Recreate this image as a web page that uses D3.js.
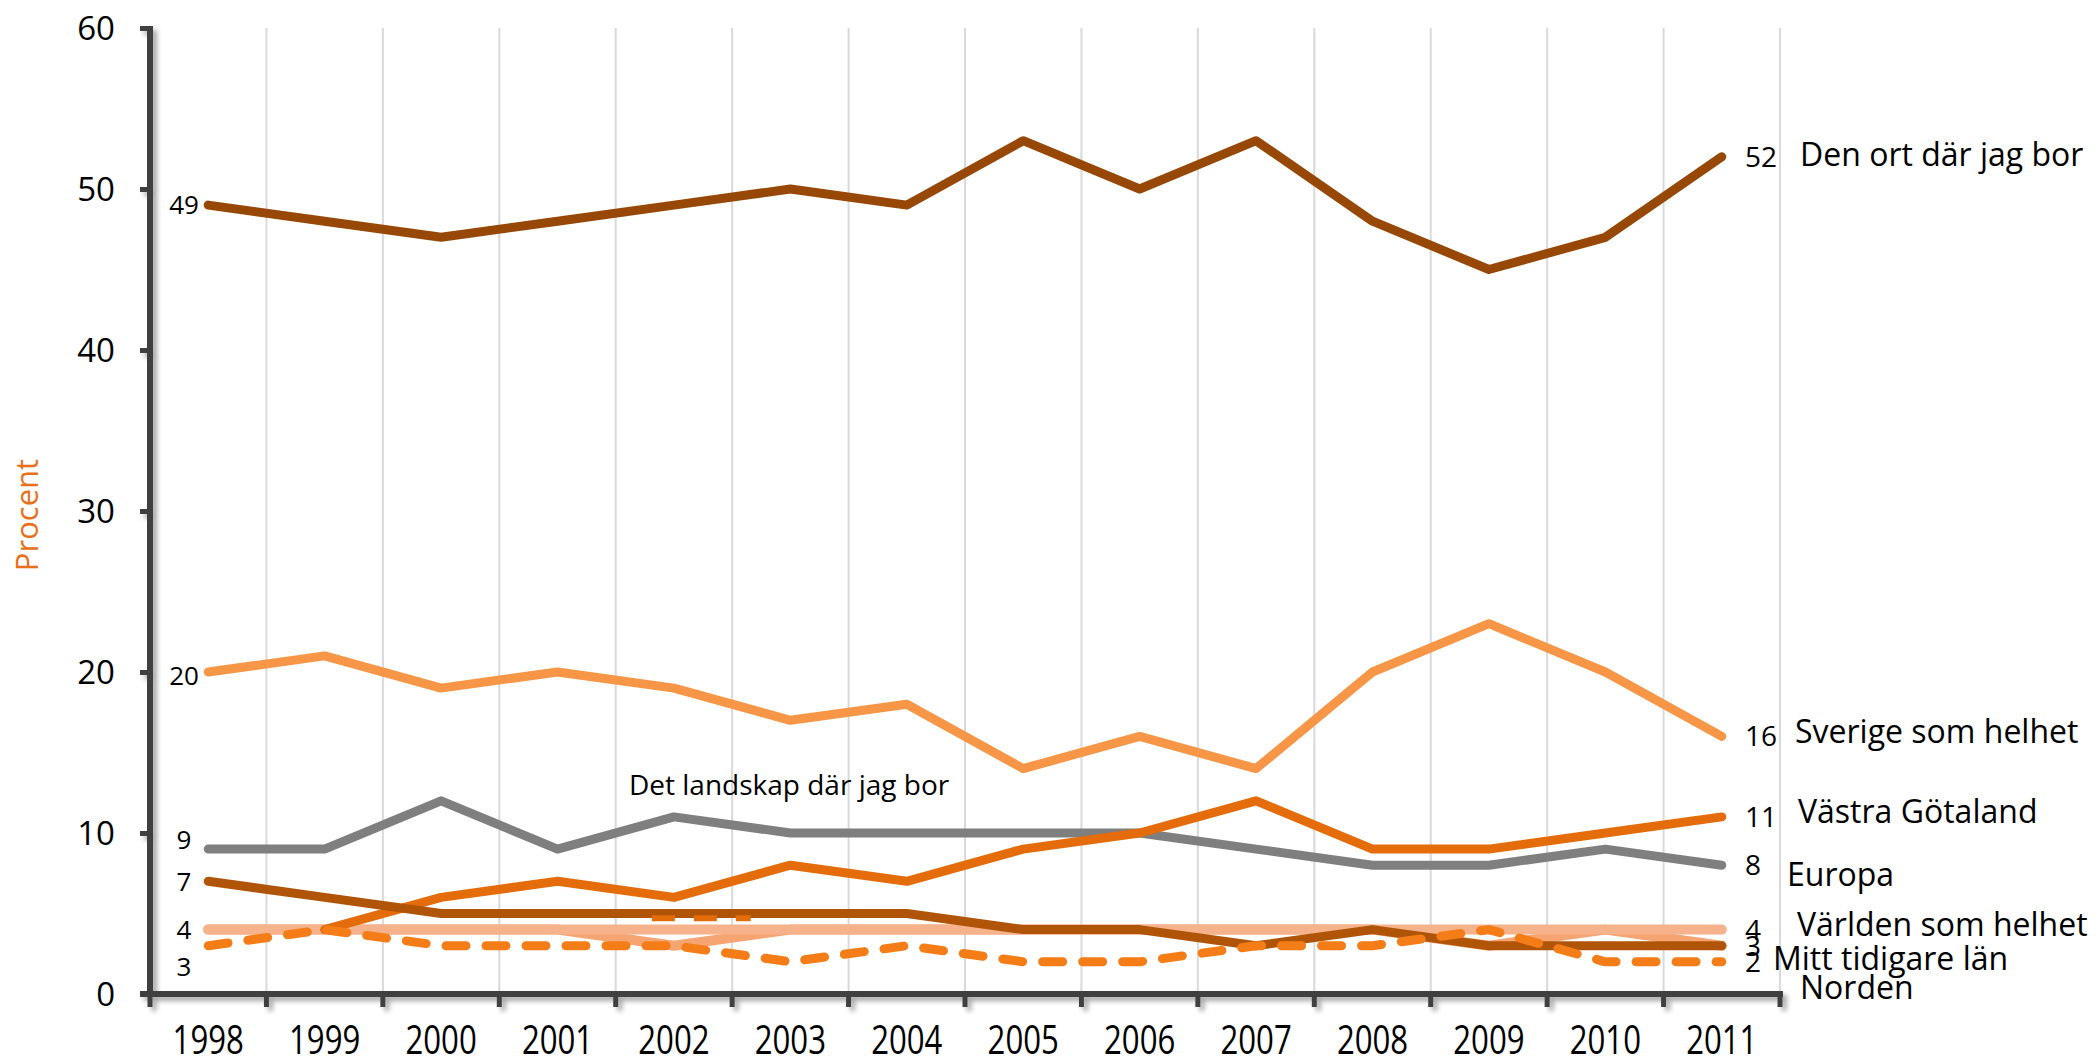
<!DOCTYPE html>
<html><head><meta charset="utf-8">
<script src="https://cdn.jsdelivr.net/npm/d3@7"></script>
<style>
body{margin:0;background:#fff}
svg{display:block}
text{font-family:"Open Sans",sans-serif;fill:#000}
</style>
</head><body>
<svg id="c" width="2098" height="1059"></svg>
<script>
// ---------------- data ----------------
const years = [1998,1999,2000,2001,2002,2003,2004,2005,2006,2007,2008,2009,2010,2011];
const yTicks = [0,10,20,30,40,50,60];
const denOrt   = [49,48,47,48,49,50,49,53,50,53,48,45,47,52];
const sverige  = [20,21,19,20,19,17,18,14,16,14,20,23,20,16];
const landskap = [9,9,12,9,11,10,10,10,10,9,8,8,9,8];
const vastra   = [null,4,6,7,6,8,7,9,10,12,9,9,10,11];
const europa   = [4,4,4,4,3,4,4,4,4,4,4,3,4,3];
const varlden  = [4,4,4,4,4,4,4,4,4,4,4,4,4,4];
const mittLan  = [7,6,5,5,5,5,5,4,4,3,4,3,3,3];
const norden   = [3,4,3,3,3,2,3,2,2,3,3,4,2,2];
const seriesNames = ["Den ort där jag bor","Sverige som helhet","Västra Götaland","Europa",
  "Världen som helhet","Mitt tidigare län","Norden","Det landskap där jag bor"];
const yTitle = "Procent";

// ---------------- layout ----------------
const svg = d3.select("#c");
const x = d3.scaleBand().domain(years).range([150,1780]);
const y = d3.scaleLinear().domain([0,60]).range([994,28]);
const cx = d => x(d) + x.bandwidth()/2;

const defs = svg.append("defs");
const f = defs.append("filter").attr("id","sh").attr("x","-20%").attr("y","-20%").attr("width","140%").attr("height","140%");
f.append("feGaussianBlur").attr("in","SourceAlpha").attr("stdDeviation",2.5).attr("result","b");
f.append("feOffset").attr("in","b").attr("dx",4).attr("dy",4).attr("result","o");
f.append("feComponentTransfer").attr("in","o").attr("result","o2")
  .append("feFuncA").attr("type","linear").attr("slope",0.35);
const fm = f.append("feMerge");
fm.append("feMergeNode").attr("in","o2");
fm.append("feMergeNode").attr("in","SourceGraphic");

// vertical gridlines at band boundaries
const bounds = years.map(d => x(d)).concat([x.range()[1]]);
svg.append("g").selectAll("line").data(bounds.slice(1)).join("line")
  .attr("x1",d=>d).attr("x2",d=>d).attr("y1",y(60)).attr("y2",y(0))
  .attr("stroke","#d9d9d9").attr("stroke-width",2);

// ---------------- series ----------------
const line = d3.line().defined(v => v != null).x((v,i) => cx(years[i])).y(v => y(v));
const series = [
  {v: landskap, c:"#7f7f7f", w:9},
  {v: sverige,  c:"#f79646", w:9},
  {v: denOrt,   c:"#974806", w:9},
  {v: europa,   c:"#f5a472", w:10},
  {v: varlden,  c:"#f6b28b", w:10},
  {v: vastra,   c:"#e46c0a", w:9},
  {v: mittLan,  c:"#b05508", w:9},
  {v: norden,   c:"#f57d17", w:9, dash:"20 20"}
];
const gS = svg.append("g");
series.forEach(s => {
  const p = gS.append("path").datum(s.v).attr("d", line)
    .attr("fill","none").attr("stroke", s.c).attr("stroke-width", s.w)
    .attr("stroke-linecap","round").attr("stroke-linejoin","round");
  if (s.dash) p.attr("stroke-dasharray", s.dash);
});
// stray dashed key fragment near 2002
const keyYear = 2002, keyVal = 4.7;
svg.append("line")
  .attr("x1", cx(keyYear) - 0.19*x.step()).attr("x2", cx(keyYear) + 0.66*x.step())
  .attr("y1", y(keyVal)).attr("y2", y(keyVal))
  .attr("stroke","#e46c0a").attr("stroke-width",6).attr("stroke-dasharray","23 19");

// ---------------- axes ----------------
const gA = svg.append("g").attr("filter","url(#sh)");
const ya = gA.append("g").attr("transform","translate(150,0)")
  .call(d3.axisLeft(y).tickValues(yTicks).tickSize(10).tickFormat(""));
ya.select(".domain").remove();
ya.selectAll(".tick line").attr("stroke","#404040").attr("stroke-width",5);
gA.append("line").attr("x1",150).attr("x2",150).attr("y1",y(60)-2).attr("y2",y(0)+3)
  .attr("stroke","#404040").attr("stroke-width",6);
gA.append("line").attr("x1",140).attr("x2",x.range()[1]+3).attr("y1",y(0)).attr("y2",y(0))
  .attr("stroke","#404040").attr("stroke-width",6);
gA.append("g").selectAll("line").data(bounds).join("line")
  .attr("x1",d=>d).attr("x2",d=>d).attr("y1",y(0)).attr("y2",y(0)+13)
  .attr("stroke","#404040").attr("stroke-width",5);

// y tick labels
svg.append("g").selectAll("text").data(yTicks).join("text")
  .attr("x",115).attr("y",d=>y(d)).attr("dy","0.36em")
  .attr("text-anchor","end").attr("font-size",33).text(d=>d);
// x tick labels
svg.append("g").selectAll("text").data(years).join("text")
  .attr("transform",d=>`translate(${cx(d)},1054) scale(0.76,1)`)
  .attr("text-anchor","middle").attr("font-size",41).text(d=>d);
// y title
svg.append("text").attr("transform","translate(38,515) rotate(-90)")
  .attr("text-anchor","middle").attr("font-size",31).style("fill","#e8701a").text(yTitle);

// ---------------- value labels ----------------
const startLabels = [
  {v: denOrt[0], off:0}, {v: sverige[0], off:4}, {v: landskap[0], off:-9},
  {v: mittLan[0], off:0}, {v: varlden[0], off:0}, {v: norden[0], off:21}
];
svg.append("g").selectAll("text").data(startLabels).join("text")
  .attr("x",184).attr("y",d=>y(d.v)+d.off).attr("dy","0.36em")
  .attr("text-anchor","middle").attr("font-size",26).text(d=>d.v);
const last = years.length-1;
const endLabels = [denOrt[last], sverige[last], vastra[last], landskap[last], varlden[last], mittLan[last], norden[last]];
svg.append("g").selectAll("text").data(endLabels).join("text")
  .attr("x",1745).attr("y",d=>y(d)).attr("dy","0.36em")
  .attr("font-size",28).text(d=>d);

// ---------------- series name labels ----------------
const nameLayout = [
  [1800,154],[1795,731],[1798,811],[1787,874],[1797,924],[1773,958],[1800,987],[629,785]
];
svg.append("g").selectAll("text").data(seriesNames).join("text")
  .attr("x",(d,i)=>nameLayout[i][0]).attr("y",(d,i)=>nameLayout[i][1]).attr("dy","0.36em")
  .attr("font-size",(d,i)=> i===7 ? 28 : 32).text(d=>d);
</script>
</body></html>
